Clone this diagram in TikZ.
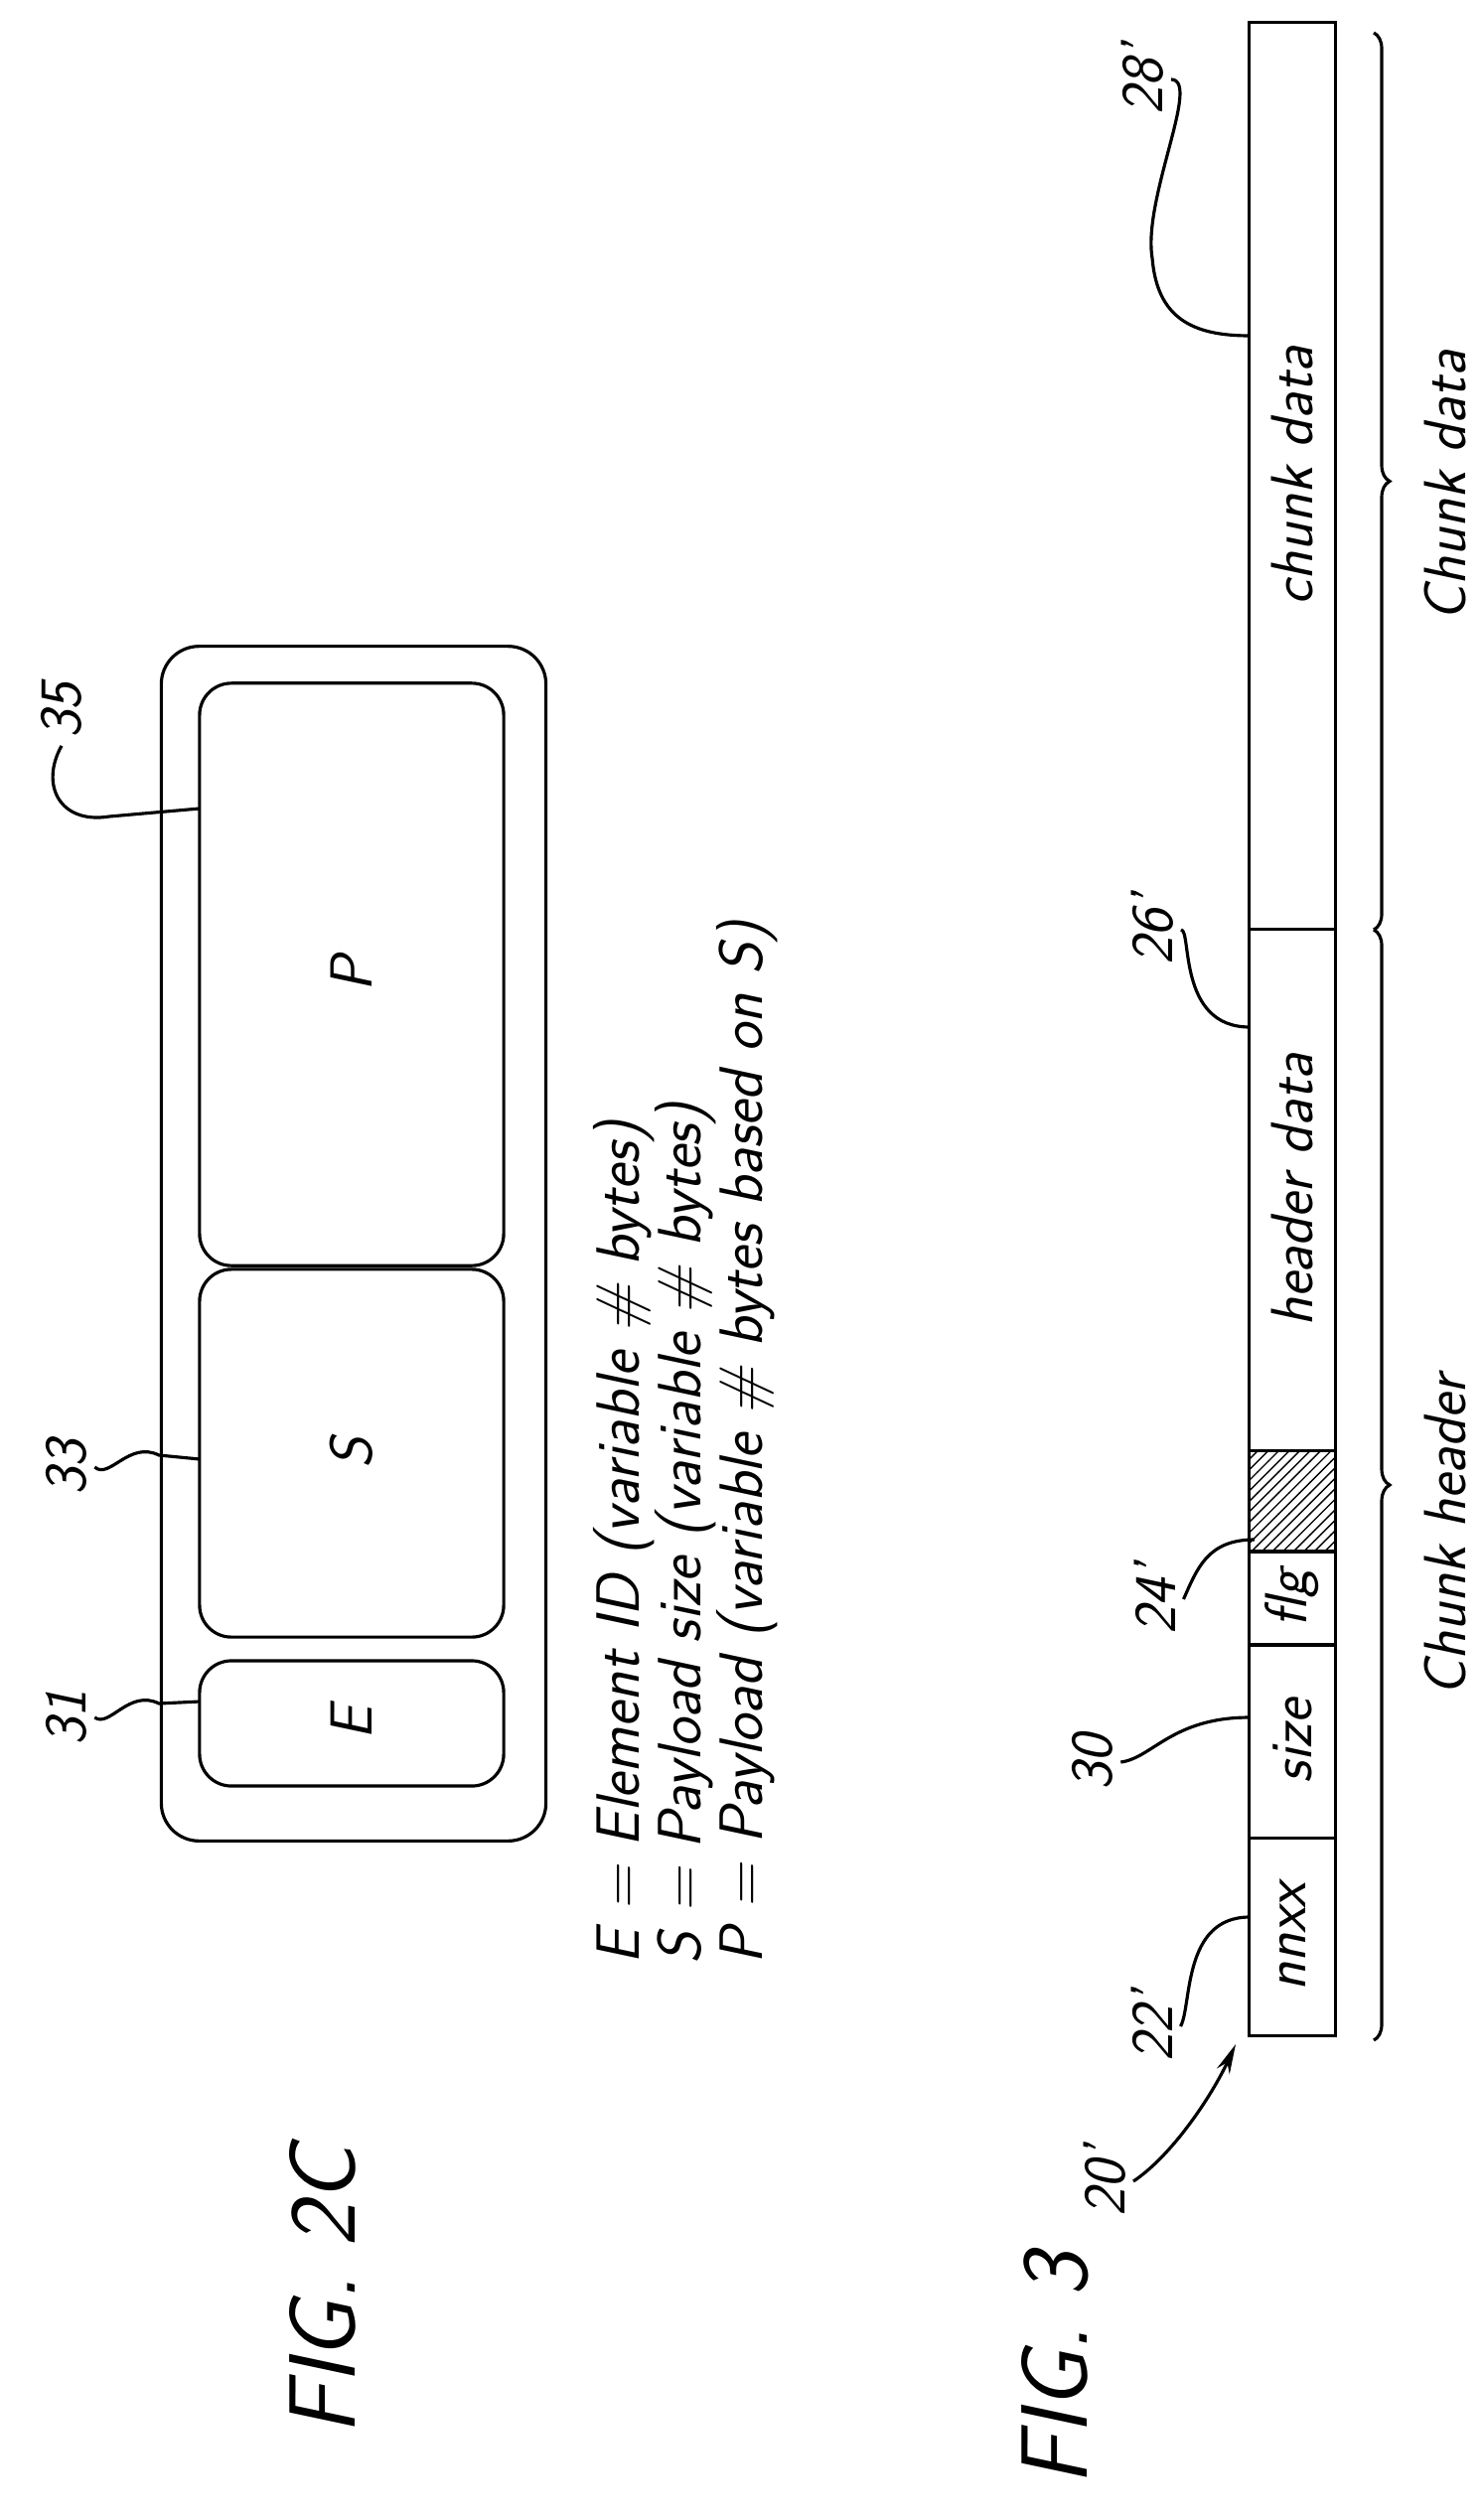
\documentclass[tikz,border=0pt]{standalone}
\usepackage{fontspec}
\usetikzlibrary{patterns,arrows.meta,decorations.pathreplacing}
\tikzset{
  rbox/.style={draw, line width=0.9pt, rounded corners=0.32cm, inner sep=0pt},
  cell/.style={draw, line width=0.9pt, rotate=90, inner sep=0pt,
    minimum height=0.87cm, font=\sffamily\itshape\fontsize{17}{20}\selectfont},
  lbl/.style={rotate=90, inner sep=2pt, font=\sffamily\itshape\fontsize{17}{20}\selectfont},
  leg/.style={lbl, anchor=west, font=\sffamily\itshape\fontsize{17.5}{20}\selectfont},
  figl/.style={rotate=90, font=\sffamily\itshape\fontsize{27}{32}\selectfont},
  lead/.style={line width=0.9pt},
  brace/.style={decorate, decoration={brace, amplitude=0.16cm}, line width=0.9pt}
}
\begin{document}
\begin{tikzpicture}[x=0.01cm, y=-0.01cm]
  \useasboundingbox (0,0) rectangle (1493,2537);

  % FIG. 2C
  \node (outer) [rbox, rounded corners=0.38cm, minimum width=3.87cm, minimum height=12.02cm] at (356,1252) {};
  \node (P) [rbox, minimum width=3.06cm, minimum height=5.86cm] at (354,981) {};
  \node (S) [rbox, minimum width=3.06cm, minimum height=3.70cm] at (354,1463) {};
  \node (E) [rbox, minimum width=3.06cm, minimum height=1.26cm] at (354,1735) {};
  \node [lbl] at (P) {P};
  \node [lbl] at (S) {S};
  \node [lbl] at (E) {E};

  \node (n35) [lbl] at (62,715) {35};
  \node (n33) [lbl] at (67,1477) {33};
  \node (n31) [lbl] at (67,1729) {31};
  \coordinate (p35) at (201,814);
  \coordinate (p33) at (201,1469);
  \coordinate (p31) at (201,1713);
  \draw[lead] (n35.west) .. controls (40,790) and (60,830) .. (110,822) -- (p35);
  \draw[lead] (n33.south) .. controls (110,1490) and (130,1450) .. (160,1465) -- (p33);
  \draw[lead] (n31.south) .. controls (110,1740) and (130,1700) .. (160,1715) -- (p31);

  \node (legE) [leg] at (628,1985) {E = Element ID (variable \# bytes)};
  \node (legS) [leg] at (690,1985) {S = Payload size (variable \# bytes)};
  \node (legP) [leg] at (752,1985) {P = Payload (variable \# bytes based on S)};

  \node (fig2c) [figl] at (325,2306) {FIG. 2C};

  % FIG. 3
  \node (nnxx) [cell, minimum width=1.99cm] at (1301,1950) {nnxx};
  \node (size) [cell, minimum width=1.95cm] at (1301,1753) {size};
  \node (flg)  [cell, minimum width=0.94cm] at (1301,1609) {flg};
  \node (hatch) [cell, minimum width=1.01cm, pattern=north east lines] at (1301,1511) {};
  \node (hdr)  [cell, minimum width=5.25cm] at (1301,1198) {header data};
  \node (cdat) [cell, minimum width=9.13cm] at (1301,479) {chunk data};

  \draw[brace] (1383,33) -- (1383,936);
  \draw[brace] (1383,936) -- (1383,2054);
  \node (tdat) [lbl] at (1455,489) {Chunk data};
  \node (thdr) [lbl] at (1455,1546) {Chunk header};

  \node (n28) [lbl] at (1150,80) {28'};
  \node (n26) [lbl] at (1160,936) {26'};
  \node (n24) [lbl] at (1163,1610) {24'};
  \node (n30) [lbl] at (1100,1774) {30};
  \node (n22) [lbl] at (1160,2040) {22'};
  \node (n20) [lbl] at (1112,2196) {20'};
  \coordinate (p28) at (1258,338);
  \coordinate (p26) at (1258,1034);
  \coordinate (p24) at (1263,1550);
  \coordinate (p30) at (1258,1729);
  \coordinate (p22) at (1258,1930);
  \coordinate (p20) at (1244,2058);
  \draw[lead] (n28.south) .. controls (1210,80) and (1150,200) .. (1160,260) .. controls (1165,320) and (1200,338) .. (p28);
  \draw[lead] (n26.south) .. controls (1200,936) and (1185,1034) .. (p26);
  \draw[lead] (n24.south) .. controls (1205,1580) and (1215,1550) .. (p24);
  \draw[lead] (n30.south) .. controls (1160,1770) and (1180,1729) .. (p30);
  \draw[lead] (n22.south) .. controls (1200,2020) and (1190,1930) .. (p22);
  \draw[lead, -{Stealth[length=0.3cm, width=0.14cm]}] (n20.south) .. controls (1180,2170) and (1220,2110) .. (p20);

  \node (fig3) [figl] at (1062,2385) {FIG. 3};
\end{tikzpicture}
\end{document}
